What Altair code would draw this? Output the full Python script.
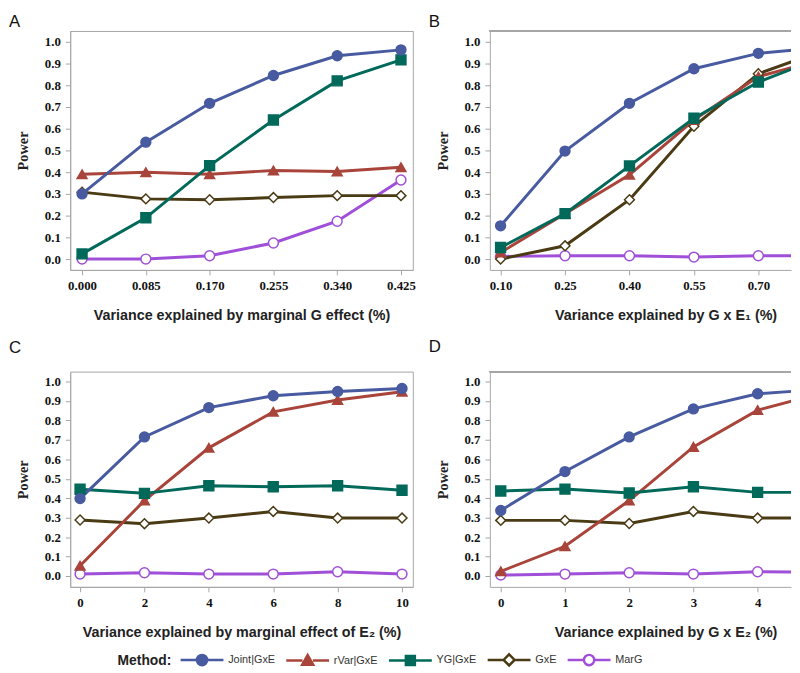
import altair as alt
import pandas as pd

methods = ["Joint|GxE", "rVar|GxE", "YG|GxE", "GxE", "MarG"]
draw_order = ["MarG", "GxE", "rVar|GxE", "YG|GxE", "Joint|GxE"]
colors = ["#485AA0", "#A8443A", "#00695A", "#4A3B14", "#A050D8"]
fills = ["#485AA0", "#A8443A", "#00695A", "#FFFFFF", "#FFFFFF"]
shapes = ["circle", "triangle-up", "square", "diamond", "circle"]

# Panel A
xa = [0.000, 0.085, 0.170, 0.255, 0.340, 0.425]
a_joint = [0.300, 0.538, 0.717, 0.845, 0.936, 0.963]
a_rvar = [0.390, 0.400, 0.390, 0.408, 0.403, 0.423]
a_yg = [0.024, 0.190, 0.430, 0.640, 0.820, 0.917]
a_gxe = [0.308, 0.277, 0.273, 0.283, 0.292, 0.292]
a_marg = [0.000, 0.000, 0.015, 0.074, 0.174, 0.364]

# Panel B
xb = [0.10, 0.25, 0.40, 0.55, 0.70, 0.85]
b_joint = [0.153, 0.497, 0.717, 0.876, 0.947, 0.975]
b_rvar = [0.030, 0.209, 0.388, 0.640, 0.840, 0.920]
b_yg = [0.053, 0.209, 0.429, 0.648, 0.815, 0.930]
b_gxe = [0.000, 0.061, 0.273, 0.611, 0.853, 0.960]
b_marg = [0.012, 0.015, 0.015, 0.009, 0.015, 0.015]

# Panel C
xc = [0, 2, 4, 6, 8, 10]
c_joint = [0.398, 0.715, 0.866, 0.927, 0.949, 0.964]
c_rvar = [0.053, 0.388, 0.659, 0.844, 0.905, 0.947]
c_yg = [0.446, 0.425, 0.464, 0.459, 0.464, 0.441]
c_gxe = [0.288, 0.269, 0.298, 0.332, 0.298, 0.298]
c_marg = [0.010, 0.017, 0.010, 0.010, 0.022, 0.010]

# Panel D
xd = [0, 1, 2, 3, 4, 5]
d_joint = [0.337, 0.537, 0.715, 0.859, 0.937, 0.960]
d_rvar = [0.024, 0.153, 0.388, 0.664, 0.853, 0.940]
d_yg = [0.437, 0.447, 0.427, 0.459, 0.430, 0.430]
d_gxe = [0.286, 0.286, 0.270, 0.332, 0.298, 0.298]
d_marg = [0.005, 0.010, 0.017, 0.010, 0.022, 0.020]

y_ticks = [round(i / 10, 1) for i in range(11)]

FRAME = "#A6A6A6"
SERIF = "Liberation Serif"
SANS = "Liberation Sans"


def make_df(x, series):
    rows = []
    for m in draw_order:
        for xi, yi in zip(x, series[m]):
            rows.append({"x": xi, "power": yi, "method": m})
    return pd.DataFrame(rows)


def panel(df, xdom, xvals, xfmt, xtitle, ydom, w, h, letter, letter_offset,
          full_frame=True, title_x=None, legend_layer=None):
    ax_x = dict(values=xvals, format=xfmt, title=xtitle, grid=False,
                domain=True, domainColor=FRAME, ticks=True, tickColor=FRAME,
                tickSize=5, labelFont=SERIF, labelFontWeight="bold",
                labelFontSize=13, labelColor="#111", labelPadding=5,
                titleFont=SANS, titleFontWeight="bold", titleFontSize=14.5,
                titleColor="#222", titlePadding=16, labelFlush=False)
    if title_x is not None:
        ax_x["titleX"] = title_x
    x = alt.X("x:Q", scale=alt.Scale(domain=xdom, nice=False, zero=False),
              axis=alt.Axis(**ax_x))
    y = alt.Y("power:Q", scale=alt.Scale(domain=ydom, nice=False, zero=False),
              axis=alt.Axis(values=y_ticks, format=".1f", title="Power", grid=False,
                            domain=True, domainColor=FRAME, ticks=True,
                            tickColor=FRAME, tickSize=5, labelFont=SERIF,
                            labelFontWeight="bold", labelFontSize=13,
                            labelColor="#111", labelPadding=5, titleFont=SERIF,
                            titleFontWeight="bold", titleFontSize=14.5,
                            titleColor="#222", titlePadding=14, labelFlush=False))
    stroke = alt.Stroke("method:N", scale=alt.Scale(domain=methods, range=colors), legend=None)
    fill = alt.Fill("method:N", scale=alt.Scale(domain=methods, range=fills), legend=None)
    shape = alt.Shape("method:N", scale=alt.Scale(domain=methods, range=shapes), legend=None)
    base = alt.Chart(df)
    lines = base.mark_line(strokeWidth=3, clip=True).encode(x=x, y=y, stroke=stroke)
    pts = base.mark_point(size=100, strokeWidth=1.5, opacity=1, filled=False, clip=True).encode(
        x=x, y=y, stroke=stroke, fill=fill, shape=shape)
    layers = [lines, pts]
    if not full_frame:
        top = alt.Chart(df).mark_rule(color=FRAME, strokeWidth=1).encode(y=alt.value(0))
        layers.insert(0, top)
    if legend_layer is not None:
        layers.append(legend_layer)
    ch = alt.layer(*layers).resolve_scale(stroke="independent", fill="independent", shape="independent")
    ch = ch.properties(
        width=w, height=h,
        title=alt.TitleParams(letter, anchor="start", frame="group", dx=-62,
                              offset=letter_offset, font=SANS, fontSize=17,
                              fontWeight="normal", color="#111"),
        view=alt.ViewConfig(stroke=FRAME if full_frame else None, strokeWidth=1),
    )
    return ch


# Legend layer (its own shape scale: a line with the marker in the middle)
# symbol box is 14px, so one path unit = 7px
seg = "M-3.1,0L-0.75,0M0.75,0L3.1,0"
circ = "M-0.75,0A0.75,0.75 0 1,0 0.75,0A0.75,0.75 0 1,0 -0.75,0Z"
legend_paths = [
    seg + circ,
    seg + "M0,-0.8L0.8,0.6L-0.8,0.6Z",
    seg + "M-0.65,-0.65L0.65,-0.65L0.65,0.65L-0.65,0.65Z",
    seg + "M0,-0.8L0.8,0L0,0.8L-0.8,0Z",
    seg + circ,
]
leg = alt.Legend(orient="none", legendX=48, legendY=283, direction="horizontal",
                 title="Method:", titleOrient="left", titleFont=SANS,
                 titleFontWeight="bold", titleFontSize=14, titleColor="#222",
                 titlePadding=22, titleAnchor="middle", titleBaseline="middle",
                 labelFont=SANS, labelFontSize=11,
                 labelColor="#333", labelOffset=18, columnPadding=5,
                 symbolSize=196, symbolStrokeWidth=2.5, symbolOpacity=1,
                 columns=5)
legend_df = pd.DataFrame({"method": methods})
legend_layer = alt.Chart(legend_df).transform_filter("false").mark_point(filled=False).encode(
    stroke=alt.Stroke("method:N", scale=alt.Scale(domain=methods, range=colors), legend=leg),
    fill=alt.Fill("method:N", scale=alt.Scale(domain=methods, range=fills), legend=leg),
    shape=alt.Shape("method:N", scale=alt.Scale(domain=methods, range=legend_paths), legend=leg),
)

dfa = make_df(xa, {"Joint|GxE": a_joint, "rVar|GxE": a_rvar, "YG|GxE": a_yg, "GxE": a_gxe, "MarG": a_marg})
dfb = make_df(xb, {"Joint|GxE": b_joint, "rVar|GxE": b_rvar, "YG|GxE": b_yg, "GxE": b_gxe, "MarG": b_marg})
dfc = make_df(xc, {"Joint|GxE": c_joint, "rVar|GxE": c_rvar, "YG|GxE": c_yg, "GxE": c_gxe, "MarG": c_marg})
dfd = make_df(xd, {"Joint|GxE": d_joint, "rVar|GxE": d_rvar, "YG|GxE": d_yg, "GxE": d_gxe, "MarG": d_marg})

A = panel(dfa, [-0.0158, 0.4408], xa, ".3f", "Variance explained by marginal G effect (%)",
          [-0.05, 1.05], 347, 242, "A", 0)
B = panel(dfb, [0.075, 0.776], xb[:5], ".2f", "Variance explained by G x E\u2081 (%)",
          [-0.05, 1.05], 305, 242, "B", 0, full_frame=False, title_x=178)
C = panel(dfc, [-0.306, 10.336], xc, "d", "Variance explained by marginal effect of E\u2082 (%)",
          [-0.0558, 1.0508], 347, 218, "C", 15, legend_layer=legend_layer)
D = panel(dfd, [-0.17, 4.52], xd[:5], "d", "Variance explained by G x E\u2082 (%)",
          [-0.0558, 1.0508], 305, 218, "D", 15, full_frame=False, title_x=178)

res = dict(stroke="independent", fill="independent", shape="independent")
chart = alt.concat(A, B, C, D, columns=2, spacing={"row": 103, "column": 78},
                   bounds="flush", align="each").resolve_scale(**res).properties(
    padding=0, background="white"
).configure_view(stroke=FRAME)

chart.save("out.html", embed_options={"renderer": "svg", "actions": False})
